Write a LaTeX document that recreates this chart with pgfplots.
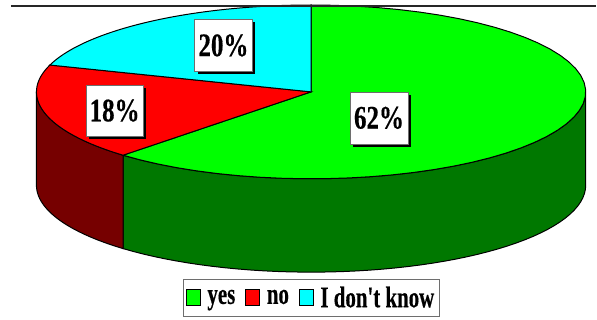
\documentclass[border=0pt]{standalone}
\usepackage{pgfplots}
\pgfplotsset{compat=1.18}
\usepackage{pgfplotstable}
\usepackage{fontspec}
\setmainfont{Liberation Serif}[BoldFeatures={FakeBold=0.5}]
\definecolor{yesTop}{RGB}{0,255,0}
\definecolor{noTop}{RGB}{255,0,0}
\definecolor{dkTop}{RGB}{0,255,255}
\definecolor{yesSide}{RGB}{0,120,0}
\definecolor{noSide}{RGB}{118,0,0}
\definecolor{frameGray}{RGB}{110,110,110}

% Survey shares, in percent
\pgfplotstableread{
share
62
18
20
}\sharetable
\pgfplotstablegetelem{0}{share}\of\sharetable\let\shareYes\pgfplotsretval
\pgfplotstablegetelem{1}{share}\of\sharetable\let\shareNo\pgfplotsretval
\pgfplotstablegetelem{2}{share}\of\sharetable\let\shareDk\pgfplotsretval

% Pie geometry, in plot units
\def\cx{311.5}\def\cy{92}\def\rx{275}\def\ry{87}\def\depth{93.5}

% Outline of a wedge of the top face between two angles
\newcommand\wedgepts[2]{%
  \gdef\pts{(\cx,\cy)}%
  \foreach \k in {0,...,48}{%
    \pgfmathsetmacro\t{#1+(#2-#1)*\k/48}%
    \pgfmathsetmacro\px{\cx+\rx*cos(\t)}%
    \pgfmathsetmacro\py{\cy-\ry*sin(\t)}%
    \xdef\pts{\pts (\px,\py)}%
  }%
}
% Outline of the rim below the top face between two angles
\newcommand\rimpts[2]{%
  \gdef\pts{}%
  \foreach \k in {0,...,48}{%
    \pgfmathsetmacro\t{#1+(#2-#1)*\k/48}%
    \pgfmathsetmacro\px{\cx+\rx*cos(\t)}%
    \pgfmathsetmacro\py{\cy-\ry*sin(\t)}%
    \xdef\pts{\pts (\px,\py)}%
  }%
  \foreach \k in {48,...,0}{%
    \pgfmathsetmacro\t{#1+(#2-#1)*\k/48}%
    \pgfmathsetmacro\py{\cy+\depth-\ry*sin(\t)}%
    \pgfmathsetmacro\px{\cx+\rx*cos(\t)}%
    \xdef\pts{\pts (\px,\py)}%
  }%
}
\newcommand\plotpts[1]{%
  \edef\tmp{\noexpand\addplot[#1] coordinates {\pts} -- cycle;}\tmp
}
% Percentage box with a hard black shadow: left, top, right, bottom, value
\newcommand\pctlabel[5]{%
  \fill[black] (axis cs:#1+3,#2+3) rectangle (axis cs:#3+3,#4+3);
  \filldraw[fill=white,draw=frameGray,line width=0.5bp] (axis cs:#1,#2) rectangle (axis cs:#3,#4);
  \node[inner sep=0pt,anchor=center] at (axis cs:{(#1+#3)/2},{(#2+#4)/2})
    {\scalebox{0.76}[1]{\fontsize{33}{33}\selectfont\bfseries #5\%}};
}
\newcommand\legtext[1]{\hspace*{4bp}\scalebox{0.70}[1]{#1}}

\begin{document}
\begin{tikzpicture}
\begin{axis}[
  hide axis,
  scale only axis,
  width=597bp, height=320bp,
  xmin=0, xmax=597, ymin=0, ymax=320,
  y dir=reverse,
  clip=false,
  legend columns=3,
  legend cell align=left,
  legend style={
    at={(axis cs:312,298)}, anchor=center,
    draw=frameGray, line width=0.7bp, fill=white,
    inner xsep=2.5bp, inner ysep=7.5bp,
    /tikz/every even column/.append style={column sep=7bp},
    nodes={inner xsep=3bp, inner ysep=0pt},
    font=\fontsize{30}{30}\selectfont\bfseries,
  },
  legend image code/.code={
    \draw[#1,draw=black,line width=0.6bp] (0bp,-8bp) rectangle (14bp,8bp);
  },
]
\pgfmathsetmacro\aYes{90-3.6*\shareYes}
\pgfmathsetmacro\aNo{\aYes-3.6*\shareNo}
\pgfmathsetmacro\aDk{\aNo-3.6*\shareDk}

% Rim of the cylinder
\rimpts{\aYes}{0}
\plotpts{fill=yesSide,draw=black,line width=1bp,forget plot}
\rimpts{-180}{\aYes}
\plotpts{fill=noSide,draw=black,line width=1bp,forget plot}

% Top face
\wedgepts{90}{\aYes}
\plotpts{fill=yesTop,draw=black,line width=1bp}
\addlegendentry{\legtext{yes}}
\wedgepts{\aYes}{\aNo}
\plotpts{fill=noTop,draw=black,line width=1bp}
\addlegendentry{\legtext{no}}
\wedgepts{\aNo}{\aDk}
\plotpts{fill=dkTop,draw=black,line width=1bp}
\addlegendentry{\legtext{I don\textquotesingle t know}}

\pctlabel{350.5}{92}{408.5}{144}{62}
\pctlabel{86}{85}{143.5}{136.5}{18}
\pctlabel{195}{19.5}{252.5}{71.5}{20}

\draw[black!85,line width=1.6bp] (axis cs:11,6) -- (axis cs:597,6);
\path (axis cs:0,0) rectangle (axis cs:597,320);
\end{axis}
\end{tikzpicture}
\end{document}
